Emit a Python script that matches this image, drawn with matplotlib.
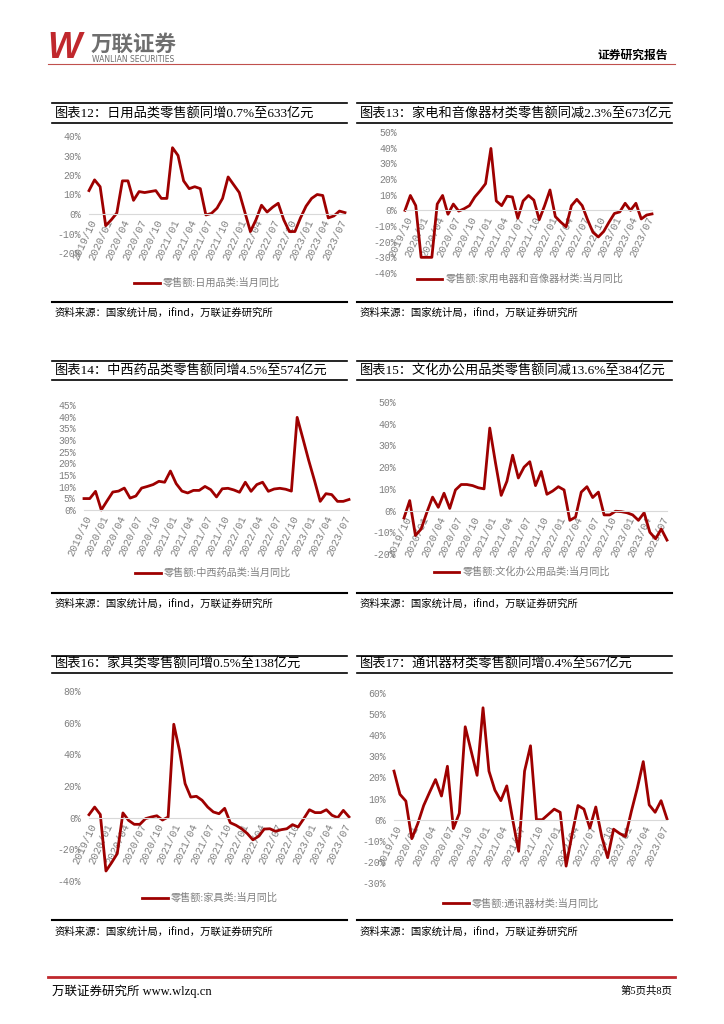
import matplotlib
matplotlib.use('Agg')
import matplotlib.pyplot as plt
from matplotlib.lines import Line2D
import pandas as pd

plt.rcParams['font.family'] = ['Liberation Serif', 'Noto Sans CJK SC']

W, H = 724, 1024
RED = '#9E0000'
GRAY = '#808080'

# months 2019/10 .. 2023/08
months = pd.date_range('2019-10-01', '2023-08-01', freq='MS')
month_labels = [d.strftime('%Y/%m') for d in months]
tick_idx = list(range(0, len(months), 3))

# 当月同比, %
daily_goods = [12, 17.5, 14, -6, -3, 0.5, 17, 17, 7, 11.5, 11, 11.5, 12, 8, 8, 34, 30, 17, 13, 14,
               13, -0.5, 0.3, 3, 8, 19, 15, 11, 1, -9, -3, 4.5, 1, 3.5, 5.5, -3, -9, -9, -2, 4,
               8, 10, 9.5, -2, -1, 1.5, 0.7]
appliance = [0, 9.5, 3, -30, -30, -30, 4, 9.5, -2.5, 4, -0.5, 1, 3, 8.5, 12.5, 17, 39.5, 6, 3, 9,
             8.5, -5, 6, 9.5, 6.5, -6, 3, 13, -4, -7.5, -10.5, 3, 7, 3, -6, -14, -17, -13.5, -7.5, -2,
             -1, 4.5, 0, 4.5, -5.5, -3, -2.3]
medicine = [4.9, 4.9, 8, 0, 3.9, 7.7, 8.1, 9.4, 5.1, 6, 9.4, 10.1, 10.9, 12.3, 11.9, 16.7, 11.3, 8.1, 7.3, 8.4,
            8.4, 10.1, 8.7, 5.6, 9.1, 9.3, 8.6, 7.6, 11.9, 8, 10.9, 11.9, 8, 9, 9.3, 8.9, 8.1, 39.7, 30.6, 21.3,
            12.7, 3.7, 7, 6.6, 3.7, 3.7, 4.5]
office = [-3.4, 4.6, -11.5, -8.5, -0.8, 6.2, 1.5, 8, 1, 9.5, 12, 12, 11.5, 10.5, 10, 38, 22, 7, 13.5, 25.5,
          15, 20, 22.5, 11.5, 18, 7.5, 9, 11, 9.5, -4.5, -3, 8.5, 11, 6, 8.5, -2, -2, -0.3, -0.5, -1,
          -2, -4.5, -1, -10, -13, -8.5, -13.6]
furniture = [1.9, 6.7, 2, -33.7, -28.4, -22.7, 3, -1.7, -4.2, -4.2, -0.6, 0.4, 1.2, -1.5, 0.4, 59, 42.5, 21.5, 13, 13.5,
             11, 6.7, 3.6, 2.5, 5.9, -3.2, -4.8, -7, -10, -14, -11.8, -7.2, -7, -8.6, -7.6, -7, -4.4, -5.9, -0.6, 5,
             3.2, 3.2, 5, 1.5, 0, 4.6, 0.5]
telecom = [23, 12, 8.8, -9, -1.9, 6.7, 13, 19, 11.2, 25.3, -4.2, 3, 44, 32.5, 21, 53, 23, 14, 9, 16,
           0, -15, 23, 35, 0, 0, 2.5, 5, 3.5, -22, -7, 6.7, 5, -4, 6, -8, -18, -4.5, -6.5, -8,
           4, 15, 27.5, 7, 3.5, 9, 0.4]

titles = ['图表12：日用品类零售额同增0.7%至633亿元',
          '图表13：家电和音像器材类零售额同减2.3%至673亿元',
          '图表14：中西药品类零售额同增4.5%至574亿元',
          '图表15：文化办公用品类零售额同减13.6%至384亿元',
          '图表16：家具类零售额同增0.5%至138亿元',
          '图表17：通讯器材类零售额同增0.4%至567亿元']
legend_labels = ['零售额:日用品类:当月同比',
                 '零售额:家用电器和音像器材类:当月同比',
                 '零售额:中西药品类:当月同比',
                 '零售额:文化办公用品类:当月同比',
                 '零售额:家具类:当月同比',
                 '零售额:通讯器材类:当月同比']
source = '资料来源：国家统计局，ifind，万联证券研究所'

fig = plt.figure(figsize=(7.24, 10.24), dpi=100)


def hline(x0, x1, y, color='black', lw=1.0):
    fig.add_artist(Line2D([x0 / W, x1 / W], [1 - y / H, 1 - y / H], color=color, lw=lw))


def ftext(x, y, s, **kw):
    fig.text(x / W, 1 - y / H, s, **kw)


# panel frames: rows (top, title line, bottom, source y, title y) and columns
rows = [(103, 123, 302, 313, 114), (361, 380, 593, 604, 371), (656, 673, 920, 932, 664)]
cols = [(52, 347), (357, 672)]


def draw_panel(k, values, lo, hi, step, box, leg_xy):
    r, c = rows[k // 2], cols[k % 2]
    top, tline, bottom, src_y, title_y = r
    x0, x1 = c
    hline(x0, x1, top, lw=1.2)
    hline(x0, x1, tline, lw=1.2)
    hline(x0, x1, bottom, lw=1.5)
    ftext(x0 + 3, title_y, titles[k], fontsize=9.5, va='center', color='black')
    ftext(x0 + 3, src_y, source, fontsize=7.5, va='center', color='black',
          family=['Noto Sans CJK SC'], style='italic')

    left, atop, right, abot = box
    ax = fig.add_axes([left / W, 1 - abot / H, (right - left) / W, (abot - atop) / H])
    # spine position first: it resets the tick labels
    for s in ['top', 'right', 'left']:
        ax.spines[s].set_visible(False)
    ax.spines['bottom'].set_position(('data', 0))
    ax.spines['bottom'].set_color('#d9d9d9')
    ax.spines['bottom'].set_linewidth(0.8)
    ln, = ax.plot(range(len(values)), values, color=RED, lw=2.0, clip_on=False)
    ax.set_xlim(0, len(values) - 1)
    ax.set_ylim(lo, hi)
    ax.set_yticks(range(lo, hi + 1, step))
    ax.set_yticklabels(['%d%%' % v for v in range(lo, hi + 1, step)],
                       family='Liberation Mono', fontsize=7, color=GRAY)
    ax.set_xticks(tick_idx)
    ax.set_xticklabels([month_labels[i] for i in tick_idx], rotation=65, ha='right', va='top',
                       rotation_mode='anchor', family='Liberation Mono', fontsize=7.5, color=GRAY)
    ax.tick_params(axis='y', length=0, pad=6)
    ax.tick_params(axis='x', length=0, pad=3)
    ax.patch.set_alpha(0)
    leg = ax.legend([ln], [legend_labels[k]], loc='center',
                    bbox_to_anchor=(leg_xy[0] / W, 1 - leg_xy[1] / H),
                    bbox_transform=fig.transFigure, frameon=False, fontsize=7.3,
                    handlelength=2.5, handletextpad=0.3)
    for t in leg.get_texts():
        t.set_color(GRAY)


draw_panel(0, daily_goods, -20, 40, 10, (89, 136, 345, 253), (207, 283))
draw_panel(1, appliance, -40, 50, 10, (405, 132, 652, 273), (520, 279))
draw_panel(2, medicine, 0, 45, 5, (84, 405, 349, 510), (213, 573))
draw_panel(3, office, -20, 50, 10, (404, 402, 667, 554), (522, 572))
draw_panel(4, furniture, -40, 80, 20, (89, 691, 349, 881), (210, 898))
draw_panel(5, telecom, -30, 60, 10, (394, 693, 667, 883), (521, 903))

# header
ftext(47, 49, 'W', fontsize=26, fontweight='bold', style='italic', color='#C0282D',
      family='Liberation Sans', va='center')
ftext(91, 44.5, '万联证券', fontsize=15.5, fontweight='bold', color='#6e6e6e',
      family=['Noto Sans CJK SC'], va='center')
ftext(92, 59.5, 'WANLIAN SECURITIES', fontsize=5.5, color='#6e6e6e', family='DejaVu Sans', va='center')
hline(48, 675, 63.5, color='#C0504D', lw=0.8)
ftext(668, 55, '证券研究报告', fontsize=8.5, fontweight='bold', color='black',
      family=['Noto Sans CJK SC'], ha='right', va='center')

# footer
hline(48, 675, 977, color='#C0282D', lw=2.0)
ftext(52, 991, '万联证券研究所 www.wlzq.cn', fontsize=9, color='black', va='center')
ftext(672, 991, '第5页共8页', fontsize=7.5, color='black', ha='right', va='center')

fig.savefig('out.png', dpi=100)
